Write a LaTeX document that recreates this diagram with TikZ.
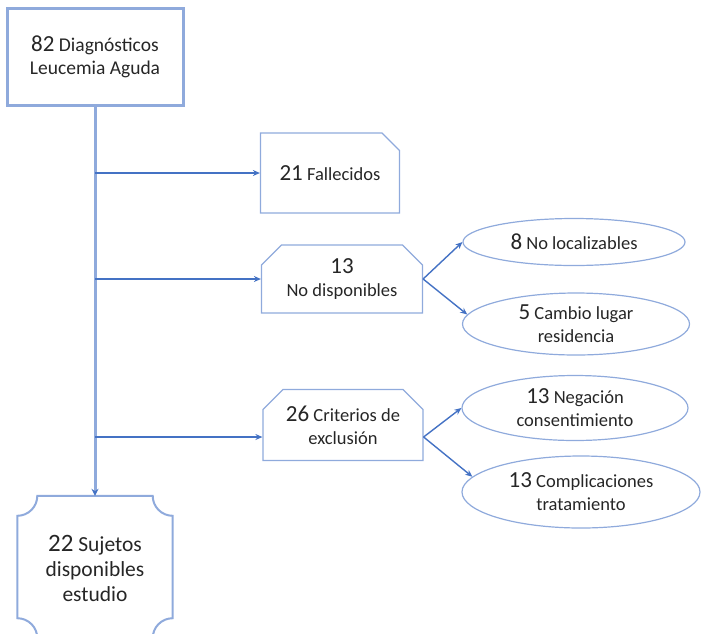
\documentclass[tikz,border=0pt]{standalone}
\usepackage{fontspec}
\setmainfont{Carlito}
\usepackage{xcolor}
\usetikzlibrary{arrows.meta,shapes.geometric,shapes.misc}
\definecolor{boxblue}{HTML}{8FAADC}
\definecolor{arrowblue}{HTML}{4472C4}
\newcommand{\bignum}[1]{{\fontsize{23}{24}\selectfont #1}}
\tikzset{
	every node/.style={font=\fontsize{18.5}{23}\selectfont, text=black!85, align=center},
	startbox/.style={draw=boxblue, line width=3pt, minimum width=176pt, minimum height=97pt, inner sep=0pt, font=\fontsize{19.5}{23}\selectfont},
	snipbox/.style={chamfered rectangle, chamfered rectangle sep=10pt, draw=boxblue, line width=1.2pt, inner sep=0pt},
	oval/.style={ellipse, draw=boxblue, line width=1.2pt, inner sep=0pt},
	boxline/.style={draw=boxblue, line width=2pt},
	trunk/.style={draw=boxblue, line width=3pt, -{Stealth[length=7pt,width=7pt,color=arrowblue]}},
	flow/.style={draw=arrowblue, line width=1.4pt, -{Stealth[length=7pt,width=6pt]}}
}

\begin{document}
\begin{tikzpicture}[x=1pt, y=-1pt]

	\useasboundingbox (0,0) rectangle (704,633);

	% Draw the start box and the final box
	\node[startbox] (diag) at (95,57) {\bignum{82} Diagnósticos\\Leucemia Aguda};
	\node[minimum width=155pt, minimum height=140pt, inner sep=0pt, font=\fontsize{21.5}{25}\selectfont] (sujetos) at (95,568) {{\fontsize{25}{25}\selectfont 22} Sujetos\\disponibles\\estudio};
	\draw[boxline] ([xshift=20pt,yshift=2pt]sujetos.north west) -- ([xshift=-20pt,yshift=2pt]sujetos.north east)
		arc[start angle=180, end angle=270, radius=20pt] -- ([yshift=20pt]sujetos.south east)
		arc[start angle=90, end angle=180, radius=20pt] -- ([xshift=20pt]sujetos.south west)
		arc[start angle=0, end angle=90, radius=20pt] -- ([yshift=-18pt]sujetos.north west)
		arc[start angle=270, end angle=360, radius=20pt] -- cycle;

	% Draw the excluded groups
	\node[snipbox, chamfered rectangle corners=north east, minimum width=139pt, minimum height=80pt] (fallecidos) at (330,173) {\bignum{21} Fallecidos};
	\node[snipbox, chamfered rectangle corners={north west,north east}, minimum width=161pt, minimum height=68pt] (nodisp) at (342,279) {\bignum{13}\\No disponibles};
	\node[snipbox, chamfered rectangle corners={north west,north east}, minimum width=160pt, minimum height=71pt] (criterios) at (343,425) {\bignum{26} Criterios de\\exclusión};

	% Draw the reasons
	\node[oval, minimum width=222pt, minimum height=47pt] (loc) at (574,242) {\bignum{8} No localizables};
	\node[oval, minimum width=227pt, minimum height=62pt] (res) at (576,324) {\bignum{5} Cambio lugar\\residencia};
	\node[oval, minimum width=226pt, minimum height=65pt] (neg) at (575,408) {\bignum{13} Negación\\consentimiento};
	\node[oval, minimum width=238pt, minimum height=72pt] (comp) at (581,492) {\bignum{13} Complicaciones\\tratamiento};

	% Branch points on the main line
	\coordinate (b1) at (diag.south |- fallecidos.west);
	\coordinate (b2) at (diag.south |- nodisp.west);
	\coordinate (c3) at ([yshift=-12pt]criterios.west);
	\coordinate (b3) at (diag.south |- c3);
	\coordinate (c4) at ([yshift=-12pt]criterios.east);

	% Draw the arrows
	\draw[trunk] (diag.south) -- ([yshift=2pt]sujetos.north);
	\draw[flow] (b1) -- (fallecidos.west);
	\draw[flow] (b2) -- (nodisp.west);
	\draw[flow] (b3) -- (c3);
	\draw[flow] (nodisp.east) -- (loc.west);
	\draw[flow] (nodisp.east) -- (res.175);
	\draw[flow] (c4) -- (neg.west);
	\draw[flow] (c4) -- (comp.172);

\end{tikzpicture}
\end{document}
